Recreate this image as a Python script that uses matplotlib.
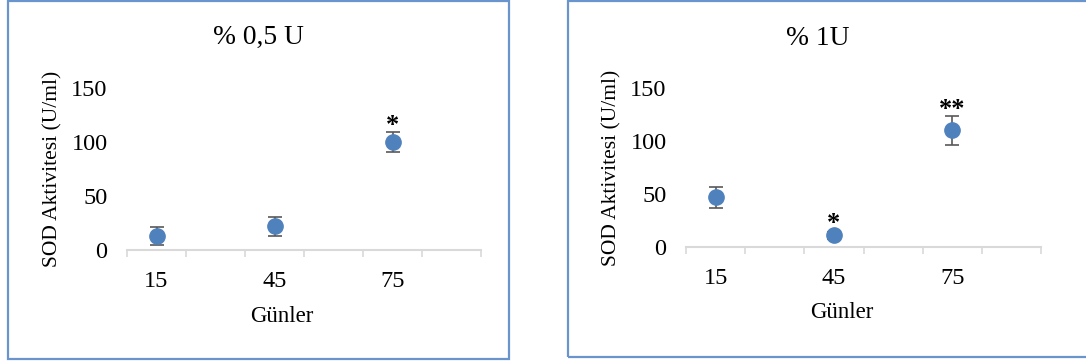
#SOD activity over days, two dose groups side by side
import matplotlib.pyplot as plt
from matplotlib.patches import Rectangle

plt.rcParams['font.family'] = ['Liberation Serif', 'DejaVu Serif']

days = ['15', '45', '75']

# % 0,5 U group
sod_05 = [13, 22, 100]
err_05 = [8, 9, 9]
sig_05 = ['', '', '*']

# % 1U group
sod_1 = [47, 11, 110]
err_1 = [10, 3, 13.5]
sig_1 = ['', '*', '**']

W, H = 1086, 363
fig = plt.figure(figsize=(W / 100, H / 100), dpi=100)

point_color = '#4F81BD'
bar_color = '#595959'
axis_color = '#D9D9D9'
frame_color = '#6A95CC'


def draw_panel(box, axpos, title, values, errs, stars, star_off):
    # outer chart frame (pixel box -> figure fractions)
    x0, y0, x1, y1 = box
    fig.patches.append(Rectangle((x0 / W, 1 - y1 / H), (x1 - x0) / W, (y1 - y0) / H,
                                 transform=fig.transFigure, fill=False,
                                 edgecolor=frame_color, linewidth=1.6))
    ax = fig.add_axes(axpos)
    # points sit in the middle of every second tick interval
    xs = [0.5, 2.5, 4.5]
    ax.errorbar(xs, values, yerr=errs, fmt='none', ecolor=bar_color,
                elinewidth=1.2, capsize=4.8, capthick=1.2, zorder=2)
    ax.plot(xs, values, 'o', color=point_color, markersize=11, zorder=3)
    for x, v, e, s, off in zip(xs, values, errs, stars, star_off):
        if s:
            ax.annotate(s, (x, v + e), xytext=(0, off), textcoords='offset points',
                        ha='center', va='center', fontsize=19, fontweight='bold')
    ax.set_xlim(0, 6)
    ax.set_ylim(0, 150)
    ax.set_xticks(range(7))
    ax.set_xticklabels([])
    ax.set_xticks(xs, minor=True)
    ax.set_xticklabels(days, minor=True)
    ax.tick_params(axis='x', which='major', length=5, width=1.2, color=axis_color,
                   direction='out')
    ax.tick_params(axis='x', which='minor', length=0, pad=15, labelsize=17.5)
    ax.set_yticks([0, 50, 100, 150])
    ax.tick_params(axis='y', length=0, pad=14, labelsize=17.5)
    for side in ['top', 'right', 'left']:
        ax.spines[side].set_visible(False)
    ax.spines['bottom'].set_color(axis_color)
    ax.spines['bottom'].set_linewidth(1.5)
    ax.patch.set_alpha(0)
    ax.set_xlabel('Günler', fontsize=16.5)
    ax.xaxis.set_label_coords(0.438, -0.41)
    ax.xaxis.label.set_va('center')
    ax.set_ylabel('SOD Aktivitesi (U/ml)', fontsize=15.5)
    ax.yaxis.set_label_coords(-0.21, 0.5)
    ax.yaxis.label.set_va('center')
    ax.text(0.37, 1.31, title, transform=ax.transAxes, ha='center', va='center',
            fontsize=19.8)
    return ax


draw_panel((8, 1, 509, 359), [127 / W, 1 - 250 / H, 354 / W, 162 / H],
           '% 0,5 U', sod_05, err_05, sig_05, [0, 0, 5])
draw_panel((568, 1, 1090, 357), [686 / W, 1 - 247 / H, 355 / W, 159 / H],
           '% 1U', sod_1, err_1, sig_1, [0, 6, 5])

fig.savefig('out.png', dpi=100)
